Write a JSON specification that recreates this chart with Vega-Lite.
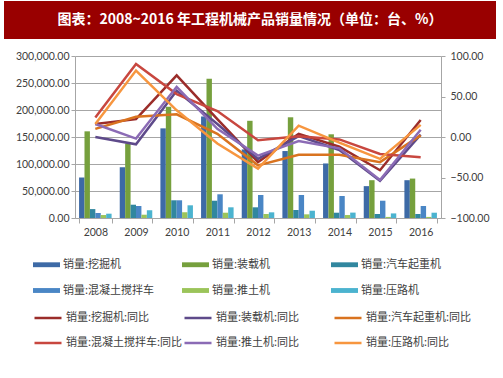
{
  "$schema": "https://vega.github.io/schema/vega-lite/v6.json",
  "padding": {"left": 4, "top": 1, "right": 0, "bottom": 0},
  "background": "white",
  "spacing": 11,
  "datasets": {
    "bars": [
      {"year": "2008", "s": "销量:挖掘机", "v": 75000},
      {"year": "2009", "s": "销量:挖掘机", "v": 94000},
      {"year": "2010", "s": "销量:挖掘机", "v": 166000},
      {"year": "2011", "s": "销量:挖掘机", "v": 188000},
      {"year": "2012", "s": "销量:挖掘机", "v": 127000},
      {"year": "2013", "s": "销量:挖掘机", "v": 124000},
      {"year": "2014", "s": "销量:挖掘机", "v": 101000},
      {"year": "2015", "s": "销量:挖掘机", "v": 59000},
      {"year": "2016", "s": "销量:挖掘机", "v": 70000},
      {"year": "2008", "s": "销量:装载机", "v": 160500},
      {"year": "2009", "s": "销量:装载机", "v": 138000},
      {"year": "2010", "s": "销量:装载机", "v": 206000},
      {"year": "2011", "s": "销量:装载机", "v": 258000},
      {"year": "2012", "s": "销量:装载机", "v": 180000},
      {"year": "2013", "s": "销量:装载机", "v": 186500},
      {"year": "2014", "s": "销量:装载机", "v": 155000},
      {"year": "2015", "s": "销量:装载机", "v": 70000},
      {"year": "2016", "s": "销量:装载机", "v": 73000},
      {"year": "2008", "s": "销量:汽车起重机", "v": 16500},
      {"year": "2009", "s": "销量:汽车起重机", "v": 24600},
      {"year": "2010", "s": "销量:汽车起重机", "v": 32800},
      {"year": "2011", "s": "销量:汽车起重机", "v": 32000},
      {"year": "2012", "s": "销量:汽车起重机", "v": 19800},
      {"year": "2013", "s": "销量:汽车起重机", "v": 14800},
      {"year": "2014", "s": "销量:汽车起重机", "v": 9800},
      {"year": "2015", "s": "销量:汽车起重机", "v": 7400},
      {"year": "2016", "s": "销量:汽车起重机", "v": 7400},
      {"year": "2008", "s": "销量:混凝土搅拌车", "v": 9300},
      {"year": "2009", "s": "销量:混凝土搅拌车", "v": 22200},
      {"year": "2010", "s": "销量:混凝土搅拌车", "v": 32800},
      {"year": "2011", "s": "销量:混凝土搅拌车", "v": 43900},
      {"year": "2012", "s": "销量:混凝土搅拌车", "v": 42600},
      {"year": "2013", "s": "销量:混凝土搅拌车", "v": 42600},
      {"year": "2014", "s": "销量:混凝土搅拌车", "v": 40700},
      {"year": "2015", "s": "销量:混凝土搅拌车", "v": 32000},
      {"year": "2016", "s": "销量:混凝土搅拌车", "v": 22200},
      {"year": "2008", "s": "销量:推土机", "v": 5500},
      {"year": "2009", "s": "销量:推土机", "v": 6100},
      {"year": "2010", "s": "销量:推土机", "v": 10500},
      {"year": "2011", "s": "销量:推土机", "v": 9800},
      {"year": "2012", "s": "销量:推土机", "v": 7400},
      {"year": "2013", "s": "销量:推土机", "v": 6800},
      {"year": "2014", "s": "销量:推土机", "v": 5500},
      {"year": "2015", "s": "销量:推土机", "v": 2000},
      {"year": "2016", "s": "销量:推土机", "v": 2000},
      {"year": "2008", "s": "销量:压路机", "v": 8000},
      {"year": "2009", "s": "销量:压路机", "v": 14200},
      {"year": "2010", "s": "销量:压路机", "v": 23500},
      {"year": "2011", "s": "销量:压路机", "v": 19800},
      {"year": "2012", "s": "销量:压路机", "v": 10500},
      {"year": "2013", "s": "销量:压路机", "v": 13500},
      {"year": "2014", "s": "销量:压路机", "v": 10000},
      {"year": "2015", "s": "销量:压路机", "v": 8500},
      {"year": "2016", "s": "销量:压路机", "v": 9800}
    ],
    "lines": [
      {"year": "2008", "s": "销量:挖掘机:同比", "p": 16},
      {"year": "2009", "s": "销量:挖掘机:同比", "p": 22},
      {"year": "2010", "s": "销量:挖掘机:同比", "p": 76},
      {"year": "2011", "s": "销量:挖掘机:同比", "p": 22},
      {"year": "2012", "s": "销量:挖掘机:同比", "p": -31},
      {"year": "2013", "s": "销量:挖掘机:同比", "p": 4},
      {"year": "2014", "s": "销量:挖掘机:同比", "p": -12},
      {"year": "2015", "s": "销量:挖掘机:同比", "p": -41},
      {"year": "2016", "s": "销量:挖掘机:同比", "p": 21},
      {"year": "2008", "s": "销量:装载机:同比", "p": 0},
      {"year": "2009", "s": "销量:装载机:同比", "p": -9},
      {"year": "2010", "s": "销量:装载机:同比", "p": 57},
      {"year": "2011", "s": "销量:装载机:同比", "p": 16},
      {"year": "2012", "s": "销量:装载机:同比", "p": -27},
      {"year": "2013", "s": "销量:装载机:同比", "p": 1},
      {"year": "2014", "s": "销量:装载机:同比", "p": -16},
      {"year": "2015", "s": "销量:装载机:同比", "p": -54},
      {"year": "2016", "s": "销量:装载机:同比", "p": 3},
      {"year": "2008", "s": "销量:汽车起重机:同比", "p": 10},
      {"year": "2009", "s": "销量:汽车起重机:同比", "p": 25},
      {"year": "2010", "s": "销量:汽车起重机:同比", "p": 28},
      {"year": "2011", "s": "销量:汽车起重机:同比", "p": 4},
      {"year": "2012", "s": "销量:汽车起重机:同比", "p": -35},
      {"year": "2013", "s": "销量:汽车起重机:同比", "p": -22},
      {"year": "2014", "s": "销量:汽车起重机:同比", "p": -22},
      {"year": "2015", "s": "销量:汽车起重机:同比", "p": -31},
      {"year": "2016", "s": "销量:汽车起重机:同比", "p": 2},
      {"year": "2008", "s": "销量:混凝土搅拌车:同比", "p": 24},
      {"year": "2009", "s": "销量:混凝土搅拌车:同比", "p": 90},
      {"year": "2010", "s": "销量:混凝土搅拌车:同比", "p": 53},
      {"year": "2011", "s": "销量:混凝土搅拌车:同比", "p": 32},
      {"year": "2012", "s": "销量:混凝土搅拌车:同比", "p": -4},
      {"year": "2013", "s": "销量:混凝土搅拌车:同比", "p": 1},
      {"year": "2014", "s": "销量:混凝土搅拌车:同比", "p": -3},
      {"year": "2015", "s": "销量:混凝土搅拌车:同比", "p": -21},
      {"year": "2016", "s": "销量:混凝土搅拌车:同比", "p": -25},
      {"year": "2008", "s": "销量:推土机:同比", "p": 16},
      {"year": "2009", "s": "销量:推土机:同比", "p": -2},
      {"year": "2010", "s": "销量:推土机:同比", "p": 62},
      {"year": "2011", "s": "销量:推土机:同比", "p": 10},
      {"year": "2012", "s": "销量:推土机:同比", "p": -23},
      {"year": "2013", "s": "销量:推土机:同比", "p": -5},
      {"year": "2014", "s": "销量:推土机:同比", "p": -14},
      {"year": "2015", "s": "销量:推土机:同比", "p": -53},
      {"year": "2016", "s": "销量:推土机:同比", "p": 9},
      {"year": "2008", "s": "销量:压路机:同比", "p": 16},
      {"year": "2009", "s": "销量:压路机:同比", "p": 82},
      {"year": "2010", "s": "销量:压路机:同比", "p": 33},
      {"year": "2011", "s": "销量:压路机:同比", "p": -8},
      {"year": "2012", "s": "销量:压路机:同比", "p": -39},
      {"year": "2013", "s": "销量:压路机:同比", "p": 14},
      {"year": "2014", "s": "销量:压路机:同比", "p": -7},
      {"year": "2015", "s": "销量:压路机:同比", "p": -27},
      {"year": "2016", "s": "销量:压路机:同比", "p": 15}
    ]
  },
  "vconcat": [
    {
      "width": 492,
      "height": 38,
      "view": {"fill": "#990000", "stroke": null},
      "data": {"values": [{"t": "图表：2008~2016 年工程机械产品销量情况（单位：台、%）"}]},
      "mark": {"type": "text", "color": "white", "font": "Noto Sans CJK SC", "fontSize": 14, "fontWeight": "bold", "align": "center", "baseline": "middle"},
      "encoding": {"text": {"field": "t", "type": "nominal"}}
    },
    {
      "spacing": 10,
      "hconcat": [
        {
          "width": 1,
          "height": 1,
          "data": {"values": [{"t": ""}]},
          "mark": {"type": "text"},
          "encoding": {"text": {"field": "t", "type": "nominal"}}
        },
        {
          "width": 366,
          "height": 162,
          "layer": [
            {
              "data": {"name": "bars"},
              "mark": {"type": "bar"},
              "encoding": {
                "x": {
                  "field": "year", "type": "nominal",
                  "scale": {"paddingInner": 0.2, "paddingOuter": 0.1},
                  "axis": {"title": null, "orient": "bottom", "labelAngle": 0, "tickBand": "extent", "tickSize": 5, "labelPadding": 4, "domainColor": "#A6A6A6", "tickColor": "#A6A6A6"}
                },
                "xOffset": {
                  "field": "s", "type": "nominal",
                  "sort": ["销量:挖掘机", "销量:装载机", "销量:汽车起重机", "销量:混凝土搅拌车", "销量:推土机", "销量:压路机"],
                  "scale": {"paddingInner": 0, "paddingOuter": 0}
                },
                "y": {
                  "field": "v", "type": "quantitative",
                  "scale": {"domain": [0, 300000], "nice": false},
                  "axis": {"title": null, "values": [0, 50000, 100000, 150000, 200000, 250000, 300000], "format": ",.2f", "grid": true, "gridColor": "#A6A6A6", "tickSize": 4, "labelPadding": 2}
                },
                "fill": {
                  "field": "s", "type": "nominal",
                  "scale": {
                    "domain": ["销量:挖掘机", "销量:装载机", "销量:汽车起重机", "销量:混凝土搅拌车", "销量:推土机", "销量:压路机"],
                    "range": ["#3D6AA6", "#76A03D", "#31879F", "#4A86C5", "#9BC45A", "#4BB3CF"]
                  },
                  "legend": {
                    "title": null, "orient": "none", "legendX": 29, "legendY": 250, "columns": 3, "direction": "horizontal", "gridAlign": "all",
                    "columnPadding": 27, "rowPadding": 7, "padding": 0,
                    "symbolType": "M-1,-0.18H1V0.18H-1Z", "symbolSize": 729, "symbolStrokeWidth": 0, "labelOffset": 3
                  }
                }
              }
            },
            {
              "data": {"name": "lines"},
              "mark": {"type": "line", "strokeWidth": 2.5},
              "encoding": {
                "x": {"field": "year", "type": "nominal"},
                "y": {
                  "field": "p", "type": "quantitative",
                  "scale": {"domain": [-100, 100], "nice": false},
                  "axis": {"title": null, "orient": "right", "values": [-100, -50, 0, 50, 100], "format": ".2f", "grid": false, "tickSize": 4, "labelPadding": 5}
                },
                "stroke": {
                  "field": "s", "type": "nominal",
                  "scale": {
                    "domain": ["销量:挖掘机:同比", "销量:装载机:同比", "销量:汽车起重机:同比", "销量:混凝土搅拌车:同比", "销量:推土机:同比", "销量:压路机:同比"],
                    "range": ["#9B2D2A", "#5E4A8A", "#D9731F", "#C8473F", "#8B6BB5", "#F7963F"]
                  },
                  "legend": {
                    "title": null, "orient": "none", "legendX": 29, "legendY": 302, "columns": 3, "direction": "horizontal", "gridAlign": "all",
                    "columnPadding": -7, "rowPadding": 5, "padding": 0,
                    "symbolType": "stroke", "symbolSize": 729, "symbolStrokeWidth": 2.5, "labelOffset": 3
                  }
                }
              }
            }
          ],
          "resolve": {"scale": {"y": "independent"}}
        }
      ]
    }
  ],
  "config": {
    "view": {"stroke": null},
    "axis": {"labelFont": "Lato", "labelFontSize": 10.5, "labelColor": "#404040", "domainColor": "#A6A6A6", "tickColor": "#A6A6A6"},
    "legend": {"labelFont": "Noto Sans CJK SC", "labelFontSize": 11, "labelColor": "#404040"}
  }
}
